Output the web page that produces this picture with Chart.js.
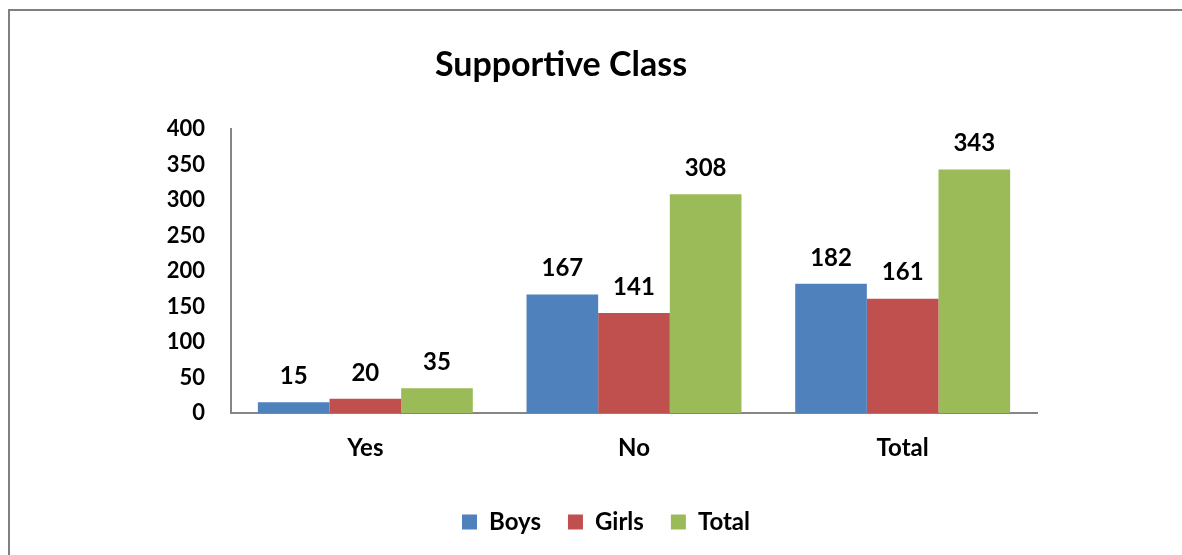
<!DOCTYPE html>
<html>
<head>
<meta charset="utf-8">
<script src="https://cdn.jsdelivr.net/npm/chart.js@4/dist/chart.umd.min.js"></script>
<style>
  html, body { margin: 0; padding: 0; background: #fff; }
  #wrap { width: 1182px; height: 555px; }
</style>
</head>
<body>
<div id="wrap"><canvas id="chart" width="1182" height="555"></canvas></div>
<script>
const categories = ['Yes', 'No', 'Total'];
const boys = [15, 167, 182];
const girls = [20, 141, 161];
const total = [35, 308, 343];
const yTicks = [0, 50, 100, 150, 200, 250, 300, 350, 400];
const chartTitle = 'Supportive Class';

const FONT = 'Lato, "Open Sans", sans-serif';

// frame lines of the embedded chart box
const framePlugin = {
    id: 'frame',
    beforeDraw(chart) {
        const ctx = chart.ctx;
        ctx.save();
        ctx.strokeStyle = '#808080';
        ctx.lineWidth = 2;
        ctx.beginPath();
        ctx.moveTo(9, 555);
        ctx.lineTo(9, 10);
        ctx.lineTo(1182, 10);
        ctx.stroke();
        ctx.restore();
    }
};

// title sits a bit left of the legend centre, so draw it here
const titlePlugin = {
    id: 'ownTitle',
    afterDraw(chart) {
        const ctx = chart.ctx;
        ctx.save();
        ctx.font = 'bold 34px ' + FONT;
        ctx.fillStyle = '#000';
        ctx.textAlign = 'center';
        ctx.textBaseline = 'middle';
        ctx.fillText(chartTitle, 561, 65);
        ctx.restore();
    }
};

// value labels above each bar
const labelPlugin = {
    id: 'barLabels',
    afterDatasetsDraw(chart) {
        const ctx = chart.ctx;
        ctx.save();
        ctx.font = 'bold 24px ' + FONT;
        ctx.fillStyle = '#000';
        ctx.textAlign = 'center';
        ctx.textBaseline = 'middle';
        chart.data.datasets.forEach((ds, i) => {
            chart.getDatasetMeta(i).data.forEach((bar, j) => {
                ctx.fillText(ds.data[j], bar.x, bar.y - 26);
            });
        });
        ctx.restore();
    }
};

new Chart(document.getElementById('chart'), {
    type: 'bar',
    data: {
        labels: categories,
        datasets: [
            { label: 'Boys', data: boys, backgroundColor: '#4F81BD' },
            { label: 'Girls', data: girls, backgroundColor: '#C0504D' },
            { label: 'Total', data: total, backgroundColor: '#9BBB59' }
        ]
    },
    options: {
        responsive: false,
        animation: false,
        events: [],
        categoryPercentage: 0.8,
        barPercentage: 1.0,
        layout: { padding: { left: 30, right: 0, top: 129, bottom: 11 } },
        plugins: {
            title: { display: false },
            legend: {
                position: 'bottom',
                labels: {
                    color: '#000',
                    font: { family: FONT, size: 24, weight: 'bold' },
                    boxWidth: 15,
                    boxHeight: 15,
                    padding: 27
                }
            },
            tooltip: { enabled: false }
        },
        scales: {
            x: {
                afterFit(scale) { scale.height = 70; },
                grid: { display: false, drawTicks: false },
                border: { display: true, color: '#868686', width: 2 },
                ticks: {
                    color: '#000',
                    padding: 21,
                    font: { family: FONT, size: 24, weight: 'bold' }
                }
            },
            y: {
                min: 0,
                max: 400,
                afterBuildTicks(scale) {
                    scale.ticks = yTicks.map(v => ({ value: v }));
                },
                afterFit(scale) { scale.width = 201; },
                grid: { display: false, drawTicks: false },
                border: { display: true, color: '#868686', width: 2 },
                ticks: {
                    color: '#000',
                    padding: 26,
                    font: { family: FONT, size: 22, weight: 'bold' }
                }
            },
            // empty space right of the plot, as in the original
            spacer: {
                type: 'linear',
                position: 'right',
                afterFit(scale) { scale.width = 145; },
                grid: { display: false, drawTicks: false },
                border: { display: false },
                ticks: { display: false }
            }
        }
    },
    plugins: [framePlugin, titlePlugin, labelPlugin]
});
</script>
</body>
</html>
